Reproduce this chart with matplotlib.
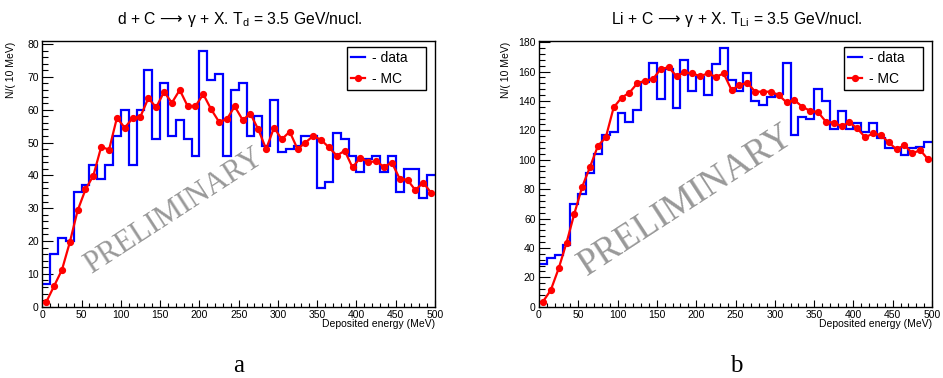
import numpy as np
import matplotlib
matplotlib.use("Agg")
import matplotlib.pyplot as plt
from matplotlib.ticker import MultipleLocator
from matplotlib.lines import Line2D

plt.rcParams['font.family'] = ['Liberation Sans', 'DejaVu Sans']
plt.rcParams['mathtext.fontset'] = 'dejavusans'

# ---------------- data ----------------
bin_edges = list(range(0, 510, 10))          # Deposited energy bins (MeV)
bin_centers = [e + 5 for e in bin_edges[:-1]]

d_data = [7, 16, 21, 20, 35, 37, 43, 39, 43, 52,
          60, 43, 60, 72, 51, 68, 52, 57, 51, 46,
          78, 69, 71, 46, 66, 68, 52, 58, 49, 63,
          47, 48, 49, 52, 52, 36, 38, 53, 51, 46,
          41, 45, 46, 41, 46, 35, 42, 42, 33, 40]
d_mc = [1.4, 6.3, 11.2, 19.6, 29.3, 35.7, 39.9, 48.7, 47.8, 57.5,
        54.5, 57.4, 57.9, 63.5, 60.7, 65.4, 62.1, 66.0, 61.1, 61.1,
        64.7, 60.1, 56.3, 57.1, 61.0, 56.9, 58.7, 54.0, 48.0, 54.5,
        51.0, 53.3, 48.0, 50.0, 52.0, 50.8, 48.5, 46.0, 47.5, 42.4,
        45.4, 44.0, 44.3, 42.6, 43.9, 39.0, 38.6, 35.5, 37.8, 34.7]

li_data = [29, 33, 35, 42, 70, 77, 91, 104, 117, 119,
           132, 126, 134, 153, 166, 141, 162, 135, 168, 147,
           156, 144, 165, 176, 154, 147, 159, 140, 137, 143,
           145, 166, 117, 129, 128, 148, 140, 121, 133, 121,
           125, 119, 125, 115, 108, 108, 103, 108, 109, 112]
li_mc = [3.4, 11.3, 26.0, 43.5, 63.4, 81.6, 95.2, 109.5, 115.2, 135.6,
         142.2, 145.6, 152.0, 153.7, 154.9, 161.9, 162.8, 156.9, 159.4, 158.7,
         156.9, 158.7, 156.4, 158.7, 147.4, 150.8, 152.4, 146.3, 146.3, 146.3,
         144.0, 139.0, 140.6, 136.0, 133.3, 132.4, 125.9, 125.2, 122.9, 125.4,
         121.3, 115.2, 117.9, 116.8, 111.8, 107.0, 110.0, 104.3, 106.6, 100.2]

titles = ['d + C $\\!\\longrightarrow\\!$ \u03b3 + X. $\\mathregular{T_{d}}$ = 3.5 GeV/nucl.',
          'Li + C $\\!\\longrightarrow\\!$ \u03b3 + X. $\\mathregular{T_{Li}}$ = 3.5 GeV/nucl.']
panel_letters = ['a', 'b']
xlabel = 'Deposited energy (MeV)'
ylabel = 'N/( 10 MeV)'
legend_labels = ['- data', '- MC']
watermark = 'PRELIMINARY'

# ---------------- figure ----------------
W, H = 943, 378
fig = plt.figure(figsize=(W / 100, H / 100), dpi=100)

panels = [
    dict(rect=[42.3 / W, 1 - 306.7 / H, 392.7 / W, 266.0 / H], data=d_data, mc=d_mc,
         ylim=81.0, ymaj=10, ymin=2, title_x=239.5, wm_xy=(167, 28.9), wm_size=22,
         letter_x=239, ylab_x=-0.068),
    dict(rect=[539.0 / W, 1 - 306.7 / H, 393.0 / W, 266.0 / H], data=li_data, mc=li_mc,
         ylim=181.0, ymaj=20, ymin=4, title_x=737.0, wm_xy=(188, 72.6), wm_size=26.5,
         letter_x=736, ylab_x=-0.070),
]

for i, p in enumerate(panels):
    ax = fig.add_axes(p['rect'])
    ax.stairs(p['data'], bin_edges, baseline=None, color='#0000ff', linewidth=1.6, zorder=2)
    ax.plot(bin_centers, p['mc'], color='#ff0000', linewidth=1.6, marker='o',
            markersize=4.2, zorder=3)
    ax.set_xlim(0, 500)
    ax.set_ylim(0, p['ylim'])
    ax.xaxis.set_major_locator(MultipleLocator(50))
    ax.xaxis.set_minor_locator(MultipleLocator(10))
    ax.yaxis.set_major_locator(MultipleLocator(p['ymaj']))
    ax.yaxis.set_minor_locator(MultipleLocator(p['ymin']))
    ax.tick_params(which='both', direction='in', top=False, right=False,
                   labelsize=7.5, width=0.8, colors='black')
    ax.tick_params(axis='x', which='major', length=5, pad=2.5)
    ax.tick_params(axis='x', which='minor', length=2.6)
    ax.tick_params(axis='y', which='major', length=8, pad=2.5)
    ax.tick_params(axis='y', which='minor', length=4.2)
    for s in ax.spines.values():
        s.set_linewidth(1.0)
        s.set_color('black')

    ax.set_xlabel(xlabel, fontsize=7.5, ha='right')
    ax.xaxis.set_label_coords(1.0, -0.048)
    ax.set_ylabel(ylabel, fontsize=7.5, ha='right')
    ax.yaxis.set_label_coords(p['ylab_x'], 0.995)

    handles = [Line2D([], [], color='#0000ff', linewidth=1.6),
               Line2D([], [], color='#ff0000', linewidth=1.6, marker='o', markersize=4.2)]
    leg = ax.legend(handles, legend_labels, loc='upper left',
                    bbox_to_anchor=(0.775, 0.977, 0.201, 0.0), mode='expand',
                    fontsize=10, frameon=True, fancybox=False, shadow=False,
                    framealpha=1, edgecolor='black', borderpad=0.3,
                    labelspacing=0.5, handlelength=1.05, handletextpad=0.45,
                    borderaxespad=0.0, numpoints=1)
    leg.get_frame().set_linewidth(1.0)

    ax.text(p['wm_xy'][0], p['wm_xy'][1], watermark, transform=ax.transData,
            rotation=33, rotation_mode='anchor', ha='center', va='center',
            fontsize=p['wm_size'], family=['Liberation Serif', 'DejaVu Serif'],
            color='#999999', zorder=1)

    fig.text(p['title_x'] / W, 1 - 24 / H, titles[i], ha='center', va='baseline',
             fontsize=11.3)
    fig.text(p['letter_x'] / W, 1 - 372 / H, panel_letters[i], ha='center', va='baseline',
             fontsize=18, family=['Liberation Serif', 'DejaVu Serif'])

fig.savefig('out.png', dpi=100)
